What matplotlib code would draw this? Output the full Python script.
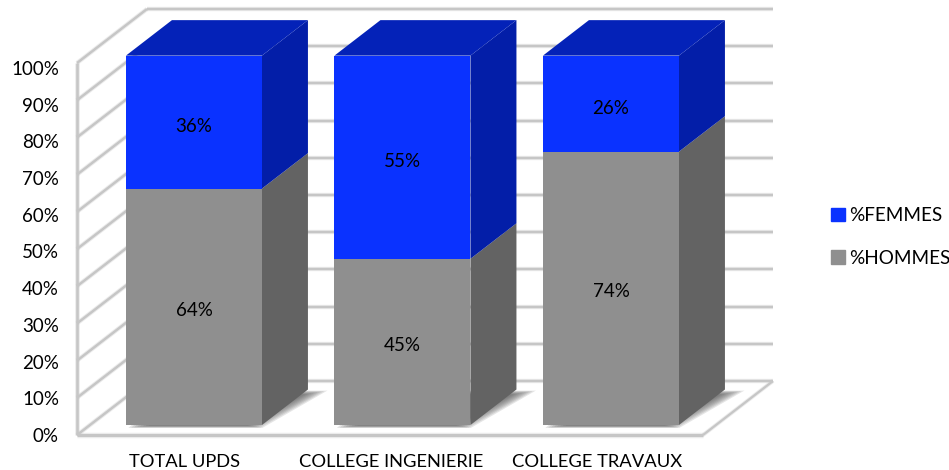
import numpy as np
import matplotlib
matplotlib.use("Agg")
import matplotlib.pyplot as plt
from matplotlib.patches import Patch

categories = ["TOTAL UPDS", "COLLEGE INGENIERIE", "COLLEGE TRAVAUX"]
hommes = [64, 45, 74]
femmes = [36, 55, 26]
y_ticks = list(range(0, 101, 10))

plt.rcParams['font.family'] = ['Lato', 'DejaVu Sans']

W, H = 949, 470
LEFT, RIGHT, TOP, BOTTOM = 77, 773, 10, 435  # plot box in pixels
PX_X = 208.5   # pixels per category
PX_Y = 3.72    # pixels per percent
X0 = 181       # pixel of first category on the front plane
DEPTH_X = 70 / PX_X
DEPTH_Y = 54 / PX_Y
BAR_W = 136 / PX_X
BAR_SCALE = 0.993  # bars stand a little shorter than the wall
TICK_SCALE = 0.987  # tick labels drift slightly from the wall lines
LABEL_SHIFT, LABEL_STEP = 0.017, 0.989  # category labels sit slightly off the bars
D_FRONT, D_BACK = 0.185, 0.842

BLUE, BLUE_TOP, BLUE_SIDE = '#0a32ff', '#0422b8', '#031ea8'
GRAY, GRAY_SIDE = '#8f8f8f', '#636363'
GRID = '#c6c6c6'

fig = plt.figure(figsize=(W / 100, H / 100), dpi=100)
ax = fig.add_axes([LEFT / W, 1 - BOTTOM / H, (RIGHT - LEFT) / W, (BOTTOM - TOP) / H])
xmin = (LEFT - X0) / PX_X
xmax = (RIGHT - X0) / PX_X
ymax = (BOTTOM - TOP) / PX_Y
ax.set_xlim(xmin, xmax)
ax.set_ylim(0, ymax)


def proj(x, v, d):
    # shear a point (category, percent, depth) onto the flat axes
    return x + d * DEPTH_X, v + d * DEPTH_Y


def face(pts, color, z, **kw):
    xy = [proj(*p) for p in pts]
    ax.fill([p[0] for p in xy], [p[1] for p in xy], color=color, lw=0, zorder=z, **kw)


def line(p, q, lw=2.4, z=1):
    a, b = proj(*p), proj(*q)
    ax.plot([a[0], b[0]], [a[1], b[1]], color=GRID, lw=lw * 0.72, zorder=z,
            solid_capstyle='butt', clip_on=False)
    ax.plot([a[0], b[0]], [a[1], b[1]], color=GRID, lw=lw * 1.3, alpha=0.35, zorder=z,
            solid_capstyle='butt', clip_on=False)


xl = xmin
xr_back = xmax - DEPTH_X
xr_front = (703 - X0) / PX_X

# walls and floor
for v in y_ticks:
    line((xl, v, 0), (xl, v, 1))
    line((xl, v, 1), (xr_back, v, 1))
line((xl, 0, 0), (xl, 100, 0), lw=2.6, z=2)
line((xl, 0, 0), (xr_front, 0, 0), lw=3, z=2)
line((xr_front, 0, 0), (xr_back, 0, 1), lw=2.2, z=2)

# bars
for i, (h, f) in enumerate(zip(hommes, femmes)):
    l, r = i - BAR_W / 2, i + BAR_W / 2
    h_top = h * BAR_SCALE
    top = (h + f) * BAR_SCALE
    # soft shadow on the floor, blurred by stacking faint layers
    for k in range(8):
        grow = 0.012 * k
        face([(l + 0.03 + grow, 0, D_FRONT - 0.055 + 0.006 * k), (r + 0.02 - grow, 0, D_FRONT - 0.055 + 0.006 * k),
              (r + 0.1 - grow, 0, D_BACK - 0.02 - 0.01 * k), (l, 0, D_BACK - 0.02 - 0.01 * k)],
             '#555555', 3, alpha=0.15)
    # right side
    face([(r, 0, D_FRONT), (r, 0, D_BACK), (r, h_top, D_BACK), (r, h_top, D_FRONT)], GRAY_SIDE, 4)
    face([(r, h_top, D_FRONT), (r, h_top, D_BACK), (r, top, D_BACK), (r, top, D_FRONT)], BLUE_SIDE, 4)
    # top
    face([(l, top, D_FRONT), (r, top, D_FRONT), (r, top, D_BACK), (l, top, D_BACK)], BLUE_TOP, 4)
    # front
    face([(l, 0, D_FRONT), (r, 0, D_FRONT), (r, h_top, D_FRONT), (l, h_top, D_FRONT)], GRAY, 5)
    face([(l, h_top, D_FRONT), (r, h_top, D_FRONT), (r, top, D_FRONT), (l, top, D_FRONT)], BLUE, 5)
    # value labels
    x_lab, y_lab = proj(i, h_top / 2, D_FRONT)
    ax.text(x_lab, y_lab - 0.9, f"{h}%", ha='center', va='center', fontsize=13.5, color='black', zorder=6)
    x_lab, y_lab = proj(i, (h_top + top) / 2, D_FRONT)
    ax.text(x_lab, y_lab - 1.2, f"{f}%", ha='center', va='center', fontsize=13.5, color='black', zorder=6)

ax.set_xticks([LABEL_SHIFT + i * LABEL_STEP for i in range(len(categories))])
ax.set_xticklabels(categories, fontsize=13.2)
ax.set_yticks([v * TICK_SCALE for v in y_ticks])
ax.set_yticklabels([f"{v}%" for v in y_ticks], fontsize=13.5)
ax.tick_params(axis='x', length=0, pad=13.5)
ax.tick_params(axis='y', length=0, pad=13)
ax.patch.set_alpha(0)
for s in ax.spines.values():
    s.set_visible(False)

handles = [Patch(color=BLUE), Patch(color=GRAY)]
fig.legend(handles, ["%FEMMES", "%HOMMES"], loc='center left', bbox_to_anchor=(831 / W, 1 - 237 / H),
           frameon=False, fontsize=13.6, handlelength=0.74, handleheight=0.74, handletextpad=0.2,
           labelspacing=1.36, borderpad=0, borderaxespad=0)

fig.savefig("out.png", dpi=100)
